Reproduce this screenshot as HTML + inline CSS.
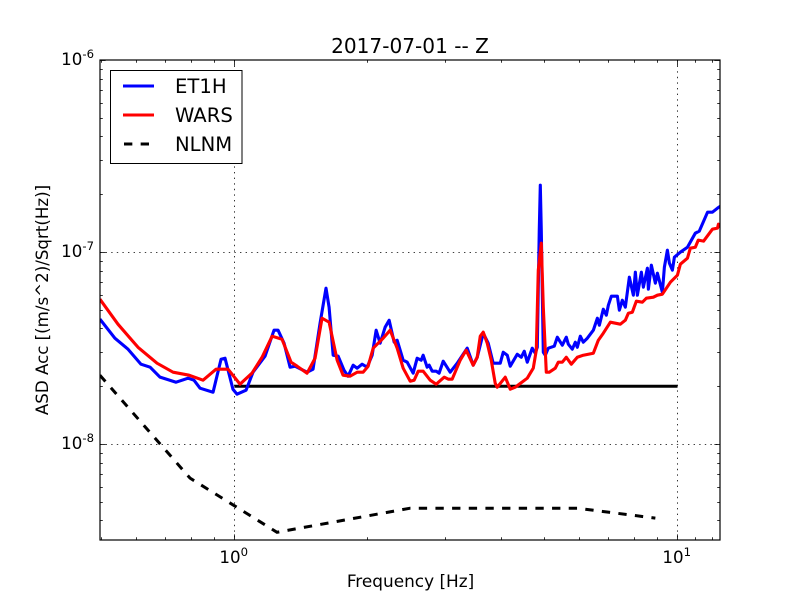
<!DOCTYPE html>
<html>
<head>
<meta charset="utf-8">
<style>
html,body{margin:0;padding:0;background:#fff;}
svg{display:block;font-family:"DejaVu Sans","Liberation Sans",sans-serif;}
</style>
</head>
<body>
<svg id="chart" width="800" height="600" viewBox="0 0 800 600" xmlns="http://www.w3.org/2000/svg">
<defs><clipPath id="plot-clip"><rect x="100" y="60" width="620" height="480"/></clipPath></defs>
<rect x="0" y="0" width="800" height="600" fill="#fff"/>
<g id="grid"></g>
<g id="series" clip-path="url(#plot-clip)"></g>
<g id="ticks"></g>
<rect x="100" y="60" width="620" height="480" fill="none" stroke="#000" stroke-width="1.2"/>
<g id="labels"></g>
<text x="410" y="53" font-size="20.1" text-anchor="middle">2017-07-01 -- Z</text>
<text x="410.5" y="587" font-size="16.9" text-anchor="middle">Frequency [Hz]</text>
<text transform="translate(48,300) rotate(-90)" font-size="16.67" text-anchor="middle">ASD Acc [(m/s^2)/Sqrt(Hz)]</text>
<g>
<rect x="110.5" y="70.5" width="131.5" height="93" fill="#fff" stroke="#000" stroke-width="1"/>
<line x1="123" x2="154" y1="86" y2="86" stroke="#0000ff" stroke-width="3"/>
<text x="175" y="93" font-size="19.6">ET1H</text>
<line x1="123" x2="154" y1="115" y2="115" stroke="#ff0000" stroke-width="3"/>
<text x="175" y="122" font-size="19.6">WARS</text>
<line x1="124" x2="154" y1="144" y2="144" stroke="#000" stroke-width="3" stroke-dasharray="8.33 8.33"/>
<text x="175" y="151" font-size="19.6">NLNM</text>
</g>
</svg>
<script>
// Frequencies in Hz; ASD values in units of 1e-8 (m/s^2)/Sqrt(Hz)
const et1hFreq = [0.4968,0.537,0.575,0.615,0.645,0.679,0.738,0.7855,0.81,0.836,0.8945,0.9325,0.952,0.992,1.013,1.062,1.101,1.172,1.228,1.254,1.294,1.335,1.37,1.458,1.504,1.56,1.609,1.635,1.67,1.714,1.767,1.805,1.853,1.892,1.941,1.992,2.045,2.088,2.132,2.188,2.234,2.293,2.329,2.403,2.454,2.531,2.584,2.639,2.666,2.722,2.751,2.794,2.853,2.897,2.959,3.068,3.182,3.352,3.458,3.531,3.643,3.739,3.837,3.98,4.042,4.128,4.192,4.347,4.439,4.509,4.58,4.7,4.774,4.825,4.875,4.901,4.926,4.978,5.03,5.109,5.27,5.354,5.495,5.61,5.669,5.788,5.879,5.941,6.034,6.129,6.258,6.457,6.593,6.661,6.8,6.908,6.981,7.091,7.316,7.392,7.507,7.625,7.786,7.95,8.033,8.117,8.288,8.374,8.551,8.595,8.73,8.913,9.007,9.244,9.341,9.488,9.587,9.738,9.84,10.15,10.53,10.97,11.2,11.69,11.99,12.31,12.5];
const et1hAsd = [4.47,3.556,3.117,2.604,2.512,2.229,2.098,2.202,2.149,1.953,1.861,2.764,2.798,1.929,1.817,1.906,2.366,2.866,3.915,3.915,3.349,2.512,2.542,2.366,2.452,4.257,6.48,5.158,2.9,2.866,2.423,2.255,2.573,2.482,2.604,2.512,2.9,3.915,3.349,4.058,4.413,3.39,3.472,2.732,2.667,2.338,2.798,2.732,2.9,2.512,2.573,2.394,2.394,2.338,2.7,2.366,2.635,3.156,2.573,2.83,3.776,3.349,2.635,2.635,3.006,2.9,2.542,2.935,2.83,3.043,2.667,3.156,2.97,3.19,12.99,22.3,12.99,3.006,2.9,3.156,3.231,3.6,3.27,3.6,3.31,3.117,3.39,3.19,3.643,3.39,3.556,3.915,4.52,4.156,5.036,4.687,5.284,5.887,5.887,4.976,5.61,5.158,7.393,5.958,7.85,5.958,7.85,6.557,8.237,6.405,8.54,6.88,7.757,6.176,8.335,10.22,8.746,8.04,9.4,9.977,10.59,12.53,12.84,16.12,16.12,16.92,17.33];
const warsFreq = [0.4968,0.5457,0.6056,0.6685,0.7265,0.7896,0.8492,0.9086,0.9671,1.029,1.095,1.154,1.216,1.28,1.342,1.385,1.458,1.52,1.576,1.635,1.705,1.758,1.824,1.892,1.951,2.003,2.056,2.165,2.246,2.329,2.403,2.492,2.544,2.598,2.666,2.765,2.853,2.974,3.037,3.1,3.232,3.334,3.458,3.531,3.587,3.643,3.72,3.798,3.877,3.918,4.085,4.192,4.302,4.58,4.725,4.8,4.85,4.926,4.978,5.056,5.136,5.298,5.381,5.495,5.61,5.758,5.941,6.129,6.457,6.627,6.8,7.054,7.43,7.625,7.746,7.908,8.075,8.331,8.506,8.821,9.007,9.244,9.638,9.996,10.15,10.53,10.69,10.97,11.14,11.45,11.99,12.31,12.37,12.5];
const warsAsd = [5.678,4.207,3.19,2.635,2.366,2.282,2.149,2.452,2.452,2.049,2.338,2.83,3.643,3.514,2.667,2.542,2.338,2.798,4.52,4.309,2.732,2.282,2.255,2.366,2.366,2.542,3.156,3.556,3.915,3.156,2.482,2.124,2.149,2.394,2.394,2.149,2.049,2.229,2.176,2.176,2.732,3.08,2.573,2.83,3.643,3.823,3.349,2.732,2.073,1.976,2.229,1.929,1.976,2.202,2.482,3.08,8.04,11.12,5.158,2.366,2.366,2.482,2.667,2.667,2.83,2.604,2.83,2.9,2.97,3.472,3.776,4.309,4.207,4.413,4.8,4.858,5.544,5.477,5.747,5.816,5.958,6.03,6.963,7.573,8.642,9.287,10.47,10.59,11.53,11.39,13.15,13.31,13.96,13.47];
const nlnmFreq = [0.4968,0.7937,1.247,2.492,5.941,8.913];
const nlnmAsd = [2.282,0.664,0.347,0.463,0.463,0.411];
const refFreq = [1,10];
const refAsd = [2,2];
const xMajorExponents = [0,1];
const yMajorExponents = [-6,-7,-8];
const xMinorTicks = [0.5,0.6,0.7,0.8,0.9,2,3,4,5,6,7,8,9,11,12];
const yMinorMantissas = [2,3,4,5,6,7,8,9];
const yMinorExponents = [-9,-8,-7];

const NS = 'http://www.w3.org/2000/svg';
const xScale = f => 234.5 + 443 * Math.log10(f);
const yScale = a => 444 - 192 * Math.log10(a);
const yScaleExp = e => 444 - 192 * (e + 8);
const mk = (tag, parent) => { const n = document.createElementNS(NS, tag); parent.appendChild(n); return n; };
const gridG = document.getElementById('grid');
const tickG = document.getElementById('ticks');
const labelG = document.getElementById('labels');
const seriesG = document.getElementById('series');

function segment(parent, x1, y1, x2, y2) {
  const l = mk('line', parent);
  l.setAttribute('x1', x1); l.setAttribute('y1', y1);
  l.setAttribute('x2', x2); l.setAttribute('y2', y2);
  l.setAttribute('stroke', '#000');
  return l;
}

function gridLine(x1, y1, x2, y2) {
  const l = segment(gridG, x1, y1, x2, y2);
  
  
  l.setAttribute('stroke-width', '0.8');
  l.setAttribute('stroke-dasharray', '1.4 4.2');
}

function tick(x1, y1, x2, y2, name) {
  const l = segment(tickG, x1, y1, x2, y2);
  
  
  l.setAttribute('stroke-width', '0.8');
}

function powerLabel(xEnd, y, exp, name) {
  const t = mk('text', labelG);
  
  
  t.setAttribute('x', xEnd);
  t.setAttribute('y', y);
  t.setAttribute('font-size', '16.67');
  t.setAttribute('text-anchor', 'end');
  t.appendChild(document.createTextNode('10'));
  const s = mk('tspan', t);
  s.setAttribute('font-size', '11.67');
  s.setAttribute('dy', '-7');
  s.textContent = String(exp);
}

xMajorExponents.forEach(e => {
  const x = Math.floor(xScale(Math.pow(10, e))) + 0.5;
  gridLine(x, 60, x, 540);
  tick(x, 540, x, 534.4, 'x-major-tick');
  tick(x, 60, x, 65.6, 'x-major-tick-top');
  powerLabel(x + 13.5, 563, e, 'x-tick-label');
});
yMajorExponents.forEach(e => {
  const y = Math.round(yScaleExp(e)) + 0.5;
  if (e !== -6) gridLine(100, y, 720, y);
  tick(100, y, 105.6, y, 'y-major-tick');
  tick(720, y, 714.4, y, 'y-major-tick-right');
  powerLabel(94, Math.round(yScaleExp(e)) + 5, e, 'y-tick-label');
});
xMinorTicks.forEach(f => {
  const x = Math.floor(xScale(f)) + 0.5;
  tick(x, 540, x, 537.2, 'x-minor-tick');
  tick(x, 60, x, 62.8, 'x-minor-tick-top');
});
yMinorExponents.forEach(e => {
  yMinorMantissas.forEach(m => {
    const y = yScaleExp(e) - 192 * Math.log10(m);
    if (y > 540 || y < 60) return;
    const py = Math.round(y) + 0.5;
    tick(100, py, 102.8, py, 'y-minor-tick');
    tick(720, py, 717.2, py, 'y-minor-tick-right');
  });
});

function pathFor(freqs, vals) {
  return freqs.map((f, i) => (i ? 'L' : 'M') + xScale(f).toFixed(2) + ' ' + yScale(vals[i]).toFixed(2)).join(' ');
}

const refPath = mk('path', seriesG);


refPath.setAttribute('d', pathFor(refFreq, refAsd));
refPath.setAttribute('fill', 'none');
refPath.setAttribute('stroke', '#000');
refPath.setAttribute('stroke-width', '3');

const nlnmPath = mk('path', seriesG);


nlnmPath.setAttribute('d', pathFor(nlnmFreq, nlnmAsd));
nlnmPath.setAttribute('fill', 'none');
nlnmPath.setAttribute('stroke', '#000');
nlnmPath.setAttribute('stroke-width', '3');
nlnmPath.setAttribute('stroke-dasharray', '8.33 8.33');

const et1hPath = mk('path', seriesG);


et1hPath.setAttribute('d', pathFor(et1hFreq, et1hAsd));
et1hPath.setAttribute('fill', 'none');
et1hPath.setAttribute('stroke', '#0000ff');
et1hPath.setAttribute('stroke-width', '3.1');
et1hPath.setAttribute('stroke-linejoin', 'round');

const warsPath = mk('path', seriesG);


warsPath.setAttribute('d', pathFor(warsFreq, warsAsd));
warsPath.setAttribute('fill', 'none');
warsPath.setAttribute('stroke', '#ff0000');
warsPath.setAttribute('stroke-width', '3.1');
warsPath.setAttribute('stroke-linejoin', 'round');
</script>
</body>
</html>
